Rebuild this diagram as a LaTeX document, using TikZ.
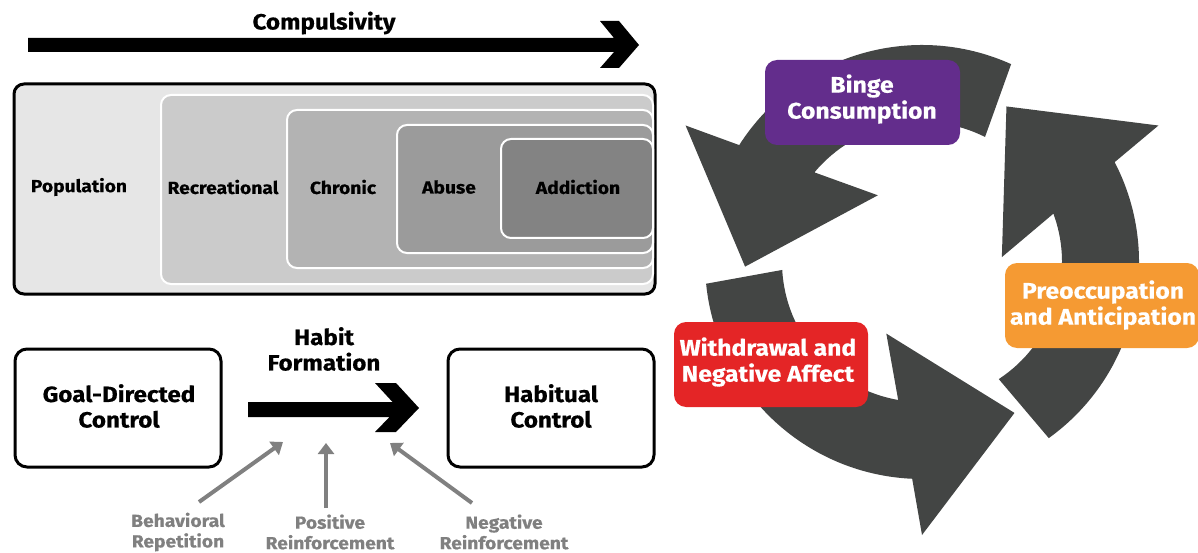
\documentclass[tikz,border=0pt]{standalone}
\usepackage{fontspec}
\setmainfont{Fira Sans}[FakeStretch=1.1, BoldFeatures={FakeBold=0.5}]
\usetikzlibrary{arrows.meta}
\definecolor{purp}{RGB}{99,45,140}
\definecolor{orng}{RGB}{245,154,51}
\definecolor{redc}{RGB}{228,37,38}
\definecolor{cyc}{RGB}{67,69,68}
\definecolor{gtxt}{RGB}{128,128,128}
\definecolor{g1}{RGB}{230,230,230}
\definecolor{g2}{RGB}{203,203,203}
\definecolor{g3}{RGB}{179,179,179}
\definecolor{g4}{RGB}{155,155,155}
\definecolor{g5}{RGB}{131,131,131}
\begin{document}
\begin{tikzpicture}[x=1pt,y=-1pt,
  txt/.style={font=\bfseries\fontsize{17.5}{20}\selectfont, align=center, inner sep=0pt},
  big/.style={font=\bfseries\fontsize{22}{25.5}\selectfont, align=center, inner sep=0pt},
  ctext/.style={font=\bfseries\fontsize{22.5}{26}\selectfont, align=center, inner sep=0pt, text=white},
  gtext/.style={font=\bfseries\fontsize{17.5}{20.5}\selectfont, align=center, inner sep=0pt, text=gtxt},
  layer/.style={draw=white, line width=2pt, rounded corners=10pt, inner sep=0pt},
  ctrlbox/.style={draw=black, line width=3pt, rounded corners=12pt, fill=white, inner sep=0pt, minimum width=206pt, minimum height=118pt},
  cbox/.style={rounded corners=12pt, inner sep=0pt, minimum width=194pt, minimum height=85pt},
  garrow/.style={draw=gtxt, line width=4pt, -{Triangle[length=11pt,width=16pt]}}
]
\useasboundingbox (0,0) rectangle (1198,553);

% Compulsivity arrow
\node[big] (comp) at (324,23) {Compulsivity};
\coordinate (ca) at (28,38);
\fill[black] (ca) -- (614,38) -- (600,21) -- (619,21) -- (639,45) -- (619,68) -- (600,68) -- (614,52) -- (28,52) -- cycle;

% nested boxes
\node[layer, draw=black, line width=3pt, fill=g1, minimum width=641pt, minimum height=210pt] (pop) at (334.5,189) {};
\node[layer, fill=g2, minimum width=492pt, minimum height=189pt] (rec) at (407,189.5) {};
\node[layer, fill=g3, minimum width=366pt, minimum height=158pt] (chr) at (470,189) {};
\node[layer, fill=g4, minimum width=256pt, minimum height=128pt] (abu) at (525,189) {};
\node[layer, fill=g5, minimum width=152pt, minimum height=99pt] (add) at (577,188.5) {};
\node[txt] (tpop) at (79,187) {Population};
\node[txt] (trec) at (223,187) {Recreational};
\node[txt] (tchr) at (343,187) {Chronic};
\node[txt] (tabu) at (449,187) {Abuse};
\node[txt] (tadd) at (578,187) {Addiction};

% habit formation
\node[ctrlbox] (goal) at (118,408) {};
\node[big] (tgoal) at (119,406) {Goal-Directed\\Control};
\node[ctrlbox] (habc) at (551,408) {};
\node[big] (thab) at (551,406) {Habitual\\Control};
\node[big] (hf) at (324,349) {Habit\\Formation};
\coordinate (hs) at (248,402);
\fill[black] (hs) -- (392.5,402) -- (375,383) -- (396,383) -- (419,408) -- (396,432) -- (375,432) -- (389.5,417) -- (248,417) -- cycle;

\node[gtext] (beh) at (178,532) {Behavioral\\Repetition};
\node[gtext] (pos) at (330,532) {Positive\\Reinforcement};
\node[gtext] (neg) at (504,532) {Negative\\Reinforcement};
\coordinate (b1) at (199,502); \coordinate (b2) at (283,442);
\coordinate (p1) at (326,508); \coordinate (p2) at (326,443);
\coordinate (n1) at (472,503); \coordinate (n2) at (390,443);
\draw[garrow] (b1) -- (b2);
\draw[garrow] (p1) -- (p2);
\draw[garrow] (n1) -- (n2);

% cycle
\begin{scope}[shift={(922,262)}, x=1pt, y=1pt]
\foreach \r in {64.5,184.5,304.5}{
  \fill[cyc] ({\r-1.25}:140pt) -- ({\r+1.25}:217pt)
    arc[start angle={\r+1.25}, end angle={\r+82.9}, radius=217pt]
    -- ({\r+85.5}:273pt) -- ({\r+117}:177pt) -- ({\r+59}:80pt) -- ({\r+75.7}:140pt)
    arc[start angle={\r+75.7}, end angle={\r-1.25}, radius=140pt] -- cycle;
}
\end{scope}

\node[cbox, fill=purp, minimum width=195pt] (binge) at (862.5,102.5) {};
\node[ctext] (tbinge) at (862,99) {Binge\\Consumption};
\node[cbox, fill=orng] (preo) at (1102,305.5) {};
\node[ctext] (tpreo) at (1103,305) {Preoccupation\\and Anticipation};
\node[cbox, fill=redc] (with) at (771,364.5) {};
\node[ctext] (twith) at (768,362) {Withdrawal and\\Negative Affect};
\end{tikzpicture}
\end{document}
